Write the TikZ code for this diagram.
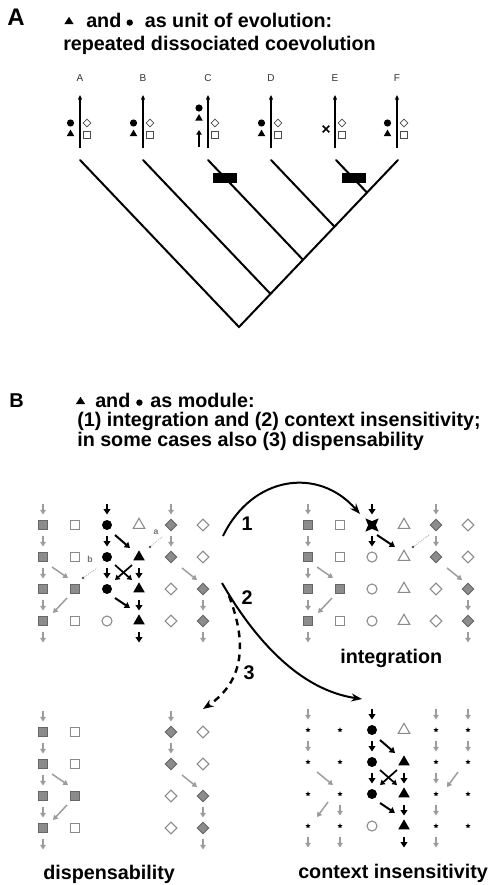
\documentclass[tikz,border=0pt]{standalone}
\usepackage{fontspec}
\setmainfont{Liberation Sans}
\usetikzlibrary{shapes.geometric,shapes.misc,arrows.meta,calc}

\definecolor{fillgray}{HTML}{8C8C8C}
\definecolor{edgegray}{HTML}{666666}
\definecolor{linegray}{HTML}{8A8A8A}
\definecolor{arrgray}{HTML}{9C9C9C}

% one cell of a grid (column, row) and a free point of a grid
\newcommand\gcell[4]{\node[#1] (#2) at ({(#3-1)*32},{(#4-1)*32}) {};}
\newcommand\gpt[3]{\coordinate (#1) at ({(#2-1)*32},{(#3-1)*32});}

% outer columns: squares (1,2) and diamonds (5,6)
\newcommand\flank[1]{%
  \gpt{#1-1-0}{1}{0}\gpt{#1-1-5}{1}{5}\gpt{#1-5-0}{5}{0}\gpt{#1-6-5}{6}{5}
  \gcell{gsq}{#1-1-1}{1}{1}\gcell{gsq}{#1-1-2}{1}{2}\gcell{gsq}{#1-1-3}{1}{3}\gcell{gsq}{#1-1-4}{1}{4}
  \gcell{osq}{#1-2-1}{2}{1}\gcell{osq}{#1-2-2}{2}{2}\gcell{gsq}{#1-2-3}{2}{3}\gcell{osq}{#1-2-4}{2}{4}
  \gcell{gdia}{#1-5-1}{5}{1}\gcell{gdia}{#1-5-2}{5}{2}\gcell{odia}{#1-5-3}{5}{3}\gcell{odia}{#1-5-4}{5}{4}
  \gcell{odia}{#1-6-1}{6}{1}\gcell{odia}{#1-6-2}{6}{2}\gcell{gdia}{#1-6-3}{6}{3}\gcell{gdia}{#1-6-4}{6}{4}
  \draw[gv] (#1-1-0) -- (#1-1-1.center);
  \draw[gv] (#1-1-1.center) -- (#1-1-2.center);
  \draw[gv] (#1-1-2.center) -- (#1-1-3.center);
  \draw[gv] (#1-1-3.center) -- (#1-1-4.center);
  \draw[gv] (#1-1-4.center) -- (#1-1-5);
  \draw[gd] ([shift={(9,10)}]#1-1-2.center) -- ([shift={(-7,-11)}]#1-2-3.center);
  \draw[gd] ([shift={(-8,9)}]#1-2-3.center) -- ([shift={(10,-8)}]#1-1-4.center);
  \draw[gv] (#1-5-0) -- (#1-5-1.center);
  \draw[gv] (#1-5-1.center) -- (#1-5-2.center);
  \draw[gd] ([shift={(11,11)}]#1-5-2.center) -- ([shift={(-6,-9)}]#1-6-3.center);
  \draw[gv] (#1-6-3.center) -- (#1-6-4.center);
  \draw[gv] (#1-6-4.center) -- (#1-6-5);
}

% inner columns: circles (3) and triangles (4) forming the module
\newcommand\module[1]{%
  \gpt{#1-3-0}{3}{0}\gpt{#1-4-5}{4}{5}
  \gcell{bcirc}{#1-3-1}{3}{1}\gcell{bcirc}{#1-3-2}{3}{2}\gcell{bcirc}{#1-3-3}{3}{3}\gcell{ocirc}{#1-3-4}{3}{4}
  \gcell{otri}{#1-4-1}{4}{1}\gcell{btri}{#1-4-2}{4}{2}\gcell{btri}{#1-4-3}{4}{3}\gcell{btri}{#1-4-4}{4}{4}
  \draw[bv] (#1-3-0) -- (#1-3-1.center);
  \draw[bv] (#1-3-1.center) -- (#1-3-2.center);
  \draw[bv] (#1-3-2.center) -- (#1-3-3.center);
  \draw[bv] (#1-4-2.center) -- (#1-4-3.center);
  \draw[bv] (#1-4-3.center) -- (#1-4-4.center);
  \draw[bv] (#1-4-4.center) -- (#1-4-5);
  \draw[bd] ([shift={(8,10)}]#1-3-1.center) -- ([shift={(-9,-9)}]#1-4-2.center);
  \draw[bdx] ([shift={(8,8)}]#1-3-2.center) -- ([shift={(-7,-9)}]#1-4-3.center);
  \draw[bdx] ([shift={(-7,8)}]#1-4-2.center) -- ([shift={(8,-9)}]#1-3-3.center);
  \draw[bd] ([shift={(8,9)}]#1-3-3.center) -- ([shift={(-9,-13)}]#1-4-4.center);
}

% a taxon of the tree: label, stem arrow, diamond and square
\newcommand\taxon[2]{%
  \node[tlab] (lab#1) at (#2,78) {#1};
  \coordinate (foot#1) at (#2,148);
  \coordinate (head#1) at (#2,95);
  \draw[stem] (foot#1) -- (head#1);
  \node[sod] (dia#1) at (#2+7,123) {};
  \node[sos] (sq#1) at (#2+7,135) {};
}
\newcommand\pair[2]{%
  \node[sbc] (cir#1) at (#2-9.5,123) {};
  \node[sbt] (tri#1) at (#2-9.5,134) {};
}

\begin{document}
\begin{tikzpicture}[x=0.75pt,y=-0.75pt,
  ttl/.style={font=\fontsize{14.8}{17}\selectfont\bfseries, inner sep=0pt, anchor=base west},
  num/.style={font=\fontsize{14.8}{17}\selectfont\bfseries, inner sep=0pt},
  panel/.style={font=\fontsize{18}{20}\selectfont\bfseries, inner sep=0pt, anchor=base west},
  tlab/.style={font=\fontsize{7.5}{8}\selectfont, text=black!80, inner sep=0pt},
  htri/.style={isosceles triangle, isosceles triangle apex angle=65, shape border rotate=90, fill=black, minimum height=5.4pt, inner sep=0pt},
  hcirc/.style={circle, fill=black, minimum size=4.8pt, inner sep=0pt},
  stem/.style={line width=0.8pt, -{Triangle[length=3.5pt,width=3pt]}},
  branch/.style={line width=1.5pt, line cap=round},
  bar/.style={fill=black, minimum width=18pt, minimum height=7.5pt, inner sep=0pt},
  sbc/.style={circle, fill=black, minimum size=5.4pt, inner sep=0pt},
  sbt/.style={regular polygon, regular polygon sides=3, fill=black, minimum size=6.6pt, inner sep=0pt},
  sod/.style={diamond, aspect=1, draw=black!70, fill=white, line width=0.6pt, minimum size=6pt, inner sep=0pt},
  sos/.style={rectangle, draw=black!70, fill=white, line width=0.6pt, minimum size=4.8pt, inner sep=0pt},
  gsq/.style={rectangle, draw=edgegray, fill=fillgray, line width=0.7pt, minimum size=7pt, inner sep=0pt},
  osq/.style={rectangle, draw=linegray, fill=white, line width=0.8pt, minimum size=7pt, inner sep=0pt},
  bcirc/.style={circle, fill=black, minimum size=7.5pt, inner sep=0pt},
  ocirc/.style={circle, draw=linegray, fill=white, line width=0.8pt, minimum size=7.5pt, inner sep=0pt},
  btri/.style={regular polygon, regular polygon sides=3, fill=black, minimum size=10pt, inner sep=0pt},
  otri/.style={regular polygon, regular polygon sides=3, draw=linegray, fill=white, line width=0.8pt, minimum size=10pt, inner sep=0pt},
  gdia/.style={diamond, aspect=1, draw=edgegray, fill=fillgray, line width=0.7pt, minimum size=9pt, inner sep=0pt},
  odia/.style={diamond, aspect=1, draw=linegray, fill=white, line width=0.8pt, minimum size=9pt, inner sep=0pt},
  ctx/.style={star, star points=5, star point ratio=2.2, fill=black, minimum size=4pt, inner sep=0pt},
  fused/.style={star, star points=4, star point ratio=2.4, rotate=45, fill=black, minimum size=14pt, inner sep=0pt},
  gv/.style={draw=arrgray, line width=1.1pt, -{Triangle[length=3.5pt,width=4.2pt]}, shorten <=7.9pt, shorten >=7.9pt},
  bv/.style={draw=black, line width=1.5pt, -{Triangle[length=4pt,width=5pt]}, shorten <=7.9pt, shorten >=7.9pt},
  gd/.style={draw=arrgray, line width=1.1pt, -{Triangle[length=3.5pt,width=4.2pt]}},
  bd/.style={draw=black, line width=1.5pt, -{Triangle[length=4pt,width=5pt]}},
  bdx/.style={draw=black, line width=1.3pt, -{Triangle[length=3.5pt,width=4.2pt]}},
  note/.style={draw=arrgray, line width=0.6pt, densely dotted},
  notelab/.style={font=\fontsize{6.5}{7}\selectfont\bfseries, text=black!55, inner sep=0pt},
  bigarr/.style={line width=1.5pt, -{Stealth[length=8pt,width=6pt]}},
]
\useasboundingbox (0,0) rectangle (488,885);
\fill[white] (0,0) rectangle (488,885);

% ---------------- panel A ----------------
\node[panel] (pA) at (7,26) {A};
\node[htri] (aT) at (69,21.5) {};
\node[ttl] (ta1a) at (86,27) {and};
\node[hcirc, anchor=west] (aC) at ([xshift=3.5pt,yshift=3.3pt]ta1a.base east) {};
\node[ttl] (ta1b) at ([xshift=8.5pt,yshift=-3.3pt]aC.east) {as unit of evolution:};
\node[ttl] (ta2) at (63,50) {repeated dissociated coevolution};

\taxon{A}{80}\pair{A}{80}
\taxon{B}{143}\pair{B}{143}
\taxon{C}{208}
\node[sbc] (cirC) at (199,108) {};
\node[sbt] (triC) at (199,118.5) {};
\coordinate (lowC) at (199,147);
\coordinate (upC) at (199,130);
\draw[line width=1.1pt, -{Triangle[length=3.5pt,width=4pt]}] (lowC) -- (upC);
\taxon{D}{271}\pair{D}{271}
\taxon{E}{335}
\node[cross out, draw=black, line width=1.1pt, minimum size=3.8pt, inner sep=0pt] (lostE) at (326,129) {};
\taxon{F}{397}\pair{F}{397}

% tree
\coordinate (tA) at (80,160);
\coordinate (tB) at (143,160);
\coordinate (tC) at (208,160);
\coordinate (tD) at (271,160);
\coordinate (tE) at (336,160);
\coordinate (tF) at (398,160);
\coordinate (root) at (239,327);
\coordinate (jB) at (270.5,293.9);
\coordinate (jC) at (303,259.8);
\coordinate (jD) at (334.5,226.7);
\coordinate (jE) at (367,192.6);
\draw[branch] (tA) -- (root) -- (tF);
\draw[branch] (tB) -- (jB);
\draw[branch] (tC) -- (jC);
\draw[branch] (tD) -- (jD);
\draw[branch] (tE) -- (jE);
\node[bar] (evC) at (225,178) {};
\node[bar] (evE) at (353.5,178) {};

% ---------------- panel B ----------------
\node[ttl, font=\fontsize{15}{17}\selectfont\bfseries] (pB) at (9,407) {B};
\node[htri] (bT) at (80.5,401.5) {};
\node[ttl] (tb1a) at (95,407) {and};
\node[hcirc, anchor=west] (bC) at ([xshift=4pt,yshift=3.3pt]tb1a.base east) {};
\node[ttl] (tb1b) at ([xshift=5.5pt,yshift=-3.3pt]bC.east) {as module:};
\node[ttl] (tb2) at (77,426) {(1) integration and (2) context insensitivity;};
\node[ttl] (tb3) at (77,446) {in some cases also (3) dispensability};

% ancestral arrangement
\begin{scope}[shift={(43,525)}]
  \flank{p}
  \module{p}
  \coordinate (pdotA) at (107,22);
  \coordinate (pendA) at (119,12);
  \draw[note] (pdotA) -- (pendA);
  \fill[black!70] (pdotA) circle (1.1pt);
  \node[notelab] (pla) at (113,7) {a};
  \coordinate (pdotB) at (40,53);
  \coordinate (pendB) at (54,43);
  \draw[note] (pdotB) -- (pendB);
  \fill[black!70] (pdotB) circle (1.1pt);
  \node[notelab] (plb) at (47,34) {b};
\end{scope}

% integration
\begin{scope}[shift={(308,525)}]
  \flank{q}
  \gpt{q-3-0}{3}{0}
  \node[fused] (q-3-1) at (64,0) {};
  \gcell{ocirc}{q-3-2}{3}{2}\gcell{ocirc}{q-3-3}{3}{3}\gcell{ocirc}{q-3-4}{3}{4}
  \gcell{otri}{q-4-1}{4}{1}\gcell{otri}{q-4-2}{4}{2}\gcell{otri}{q-4-3}{4}{3}\gcell{otri}{q-4-4}{4}{4}
  \draw[bv] (q-3-0) -- (q-3-1.center);
  \draw[bv] (q-3-1.center) -- (q-3-2.center);
  \draw[bd] ([shift={(5,10)}]q-3-1.center) -- ([shift={(-9,-10)}]q-4-2.center);
  \coordinate (qdot) at (105,22);
  \coordinate (qend) at (121,10);
  \draw[note] (qdot) -- (qend);
  \fill[black!70] (qdot) circle (1.1pt);
\end{scope}
\node[ttl] (lint) at (340,663) {integration};

% dispensability
\begin{scope}[shift={(43,732)}]
  \flank{s}
\end{scope}
\node[ttl] (ldis) at (43,879) {dispensability};

% context insensitivity
\begin{scope}[shift={(308,730)}]
  \module{t}
  \foreach \c in {1,2,5,6}{
    \foreach \r in {1,...,4}{
      \gcell{ctx}{t-\c-\r}{\c}{\r}
    }
  }
  \gpt{t-1-0}{1}{0}\gpt{t-1-5}{1}{5}\gpt{t-2-5}{2}{5}
  \gpt{t-5-0}{5}{0}\gpt{t-5-5}{5}{5}\gpt{t-6-0}{6}{0}
  \draw[gv] (t-1-0) -- (t-1-1.center);
  \draw[gv] (t-1-1.center) -- (t-1-2.center);
  \draw[gv] (t-1-4.center) -- (t-1-5);
  \draw[gd] ([shift={(9,10)}]t-1-2.center) -- ([shift={(-7,-9)}]t-2-3.center);
  \draw[gd] ([shift={(-12,8)}]t-2-3.center) -- ([shift={(9,-9)}]t-1-4.center);
  \draw[gv] (t-2-3.center) -- (t-2-4.center);
  \draw[gv] (t-2-4.center) -- (t-2-5);
  \draw[gv] (t-5-0) -- (t-5-1.center);
  \draw[gv] (t-5-1.center) -- (t-5-2.center);
  \draw[gv] (t-5-2.center) -- (t-5-3.center);
  \draw[gv] (t-5-3.center) -- (t-5-4.center);
  \draw[gv] (t-5-4.center) -- (t-5-5);
  \draw[gv] (t-6-0) -- (t-6-1.center);
  \draw[gv] (t-6-1.center) -- (t-6-2.center);
  \draw[gd] ([shift={(-10,10)}]t-6-2.center) -- ([shift={(11,-7)}]t-5-3.center);
\end{scope}
\node[ttl] (lctx) at (298,878) {context insensitivity};

% transitions between the arrangements
\coordinate (s1) at (223,536);
\coordinate (e1) at (360,514);
\draw[bigarr] (s1) .. controls (252,476) and (318,466) .. (e1);
\node[num] (n1) at (247,524) {1};
\coordinate (s2) at (222,583);
\coordinate (e2) at (362,699);
\draw[bigarr] (s2) .. controls (255,640) and (300,690) .. (e2);
\node[num] (n2) at (247,598) {2};
\coordinate (s3) at (229,596);
\coordinate (e3) at (203,709);
\draw[bigarr, dash pattern=on 5pt off 4pt, line width=1.8pt] (s3) .. controls (246,640) and (246,680) .. (e3);
\node[num] (n3) at (249,673) {3};
\end{tikzpicture}
\end{document}
